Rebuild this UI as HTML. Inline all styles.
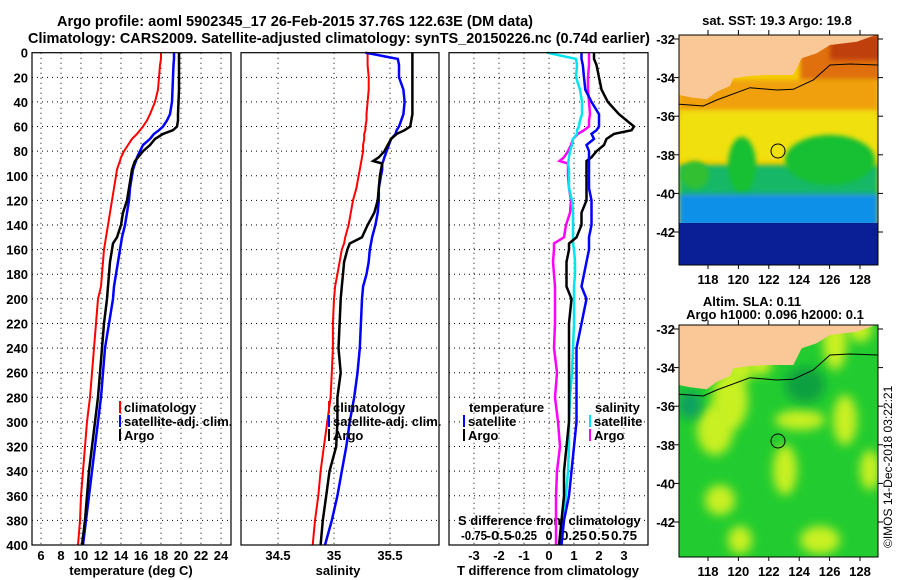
<!DOCTYPE html>
<html><head><meta charset="utf-8"><style>
html,body{margin:0;padding:0;background:#fff;width:900px;height:580px;overflow:hidden;}
svg{display:block;font-family:"Liberation Sans",sans-serif;font-weight:bold;overflow:hidden;}
</style></head><body>
<svg id="fig" width="900" height="580" viewBox="0 0 900 580">
<defs>
<filter id="blur4" x="-50%" y="-50%" width="200%" height="200%"><feGaussianBlur stdDeviation="5"/></filter>
<filter id="blur2" x="-20%" y="-20%" width="140%" height="140%"><feGaussianBlur stdDeviation="2.5"/></filter>
<clipPath id="clipMap1"><rect x="679" y="35" width="199" height="230"/></clipPath>
<clipPath id="clipMap2"><rect x="679" y="325" width="199" height="232"/></clipPath>
</defs>
<text x="57" y="26" font-size="15" textLength="476" lengthAdjust="spacingAndGlyphs">Argo profile: aoml 5902345_17 26-Feb-2015 37.76S 122.63E (DM data)</text>
<text x="28" y="43" font-size="15" textLength="622" lengthAdjust="spacingAndGlyphs">Climatology: CARS2009. Satellite-adjusted climatology: synTS_20150226.nc (0.74d earlier)</text>
<g id="panels"></g>
<g id="maps"></g>
<text transform="translate(892,548) rotate(-90)" font-size="12" font-weight="normal">©IMOS 14-Dec-2018 03:22:21</text>
</svg>
<script>
// ---- data ----
const depths = [0,5,10,20,30,40,50,55,60,63,66,70,75,80,85,88,90,95,100,110,120,130,140,150,155,160,170,180,190,200,220,240,260,280,300,320,340,360,380,400];
const tempClim = [18.0,18.0,17.9,17.8,17.7,17.4,16.9,16.6,16.2,15.9,15.6,15.1,14.7,14.3,14.0,13.9,13.8,13.6,13.5,13.3,13.1,12.9,12.7,12.5,12.4,12.3,12.2,12.1,12.0,11.7,11.5,11.3,11.1,10.9,10.6,10.4,10.2,10.0,9.9,9.7];
const tempSat  = [19.3,19.3,19.25,19.2,19.15,19.1,18.9,18.6,18.2,17.8,17.3,16.9,16.2,15.9,15.6,15.5,15.4,15.2,15.1,14.9,14.8,14.6,14.4,14.1,14.0,13.9,13.7,13.5,13.3,13.2,12.8,12.4,12.2,12.0,11.7,11.4,11.1,10.8,10.5,10.2];
const tempArgo = [19.8,19.8,19.8,19.8,19.8,19.75,19.7,19.7,19.6,19.2,18.2,17.4,16.9,16.2,15.7,15.4,15.3,15.1,15.0,14.8,14.6,14.2,14.0,13.6,13.2,13.1,12.9,12.8,12.7,12.6,12.3,12.1,11.9,11.7,11.4,11.1,10.8,10.6,10.4,10.1];
const salClim = [35.30,35.30,35.30,35.31,35.31,35.30,35.29,35.29,35.28,35.28,35.27,35.27,35.26,35.26,35.25,35.245,35.24,35.23,35.22,35.20,35.17,35.15,35.13,35.10,35.09,35.07,35.05,35.03,35.01,35.00,34.99,34.99,34.98,34.97,34.94,34.91,34.88,34.86,34.83,34.81];
const salSat  = [35.28,35.57,35.58,35.58,35.62,35.63,35.62,35.60,35.58,35.56,35.55,35.51,35.49,35.47,35.45,35.44,35.43,35.43,35.42,35.40,35.40,35.39,35.37,35.34,35.33,35.32,35.31,35.29,35.26,35.25,35.24,35.23,35.21,35.18,35.14,35.11,35.07,35.03,34.98,34.92];
const salArgo = [35.70,35.70,35.70,35.70,35.70,35.70,35.70,35.69,35.68,35.63,35.56,35.51,35.48,35.45,35.40,35.35,35.43,35.42,35.41,35.40,35.39,35.36,35.30,35.25,35.14,35.12,35.09,35.08,35.07,35.06,35.05,35.04,35.06,35.03,35.03,35.02,34.96,34.93,34.90,34.88];
const depthTicks = [0,20,40,60,80,100,120,140,160,180,200,220,240,260,280,300,320,340,360,380,400];
const tempTicks = [6,8,10,12,14,16,18,20,22,24];
const salTicks = [34.5,35,35.5];
const tdiffTicks = [-3,-2,-1,0,1,2,3];
const sdiffTicks = [-0.75,-0.5,-0.25,0,0.25,0.5,0.75];
const sdiffLabels = ["-0.75","-0.5","-0.25","0","0.25","0.5","0.75"];
const latTicks = [-32,-34,-36,-38,-40,-42];
const lonTicks = [118,120,122,124,126,128];

const NS='http://www.w3.org/2000/svg';
const G=document.getElementById('panels');
function mk(tag,attrs,parent){const e=document.createElementNS(NS,tag);for(const k in attrs)e.setAttribute(k,attrs[k]);(parent||G).appendChild(e);return e;}
function txt(x,y,s,attrs,parent){const e=mk('text',Object.assign({x:x,y:y,'font-size':12},attrs||{}),parent);e.textContent=s;return e;}

const Y0=52.7, Y1=545;
const yD=d=>Y0+(d/400)*(Y1-Y0);
const xT=t=>41+(t-6)*10;
const xS=s=>334+(s-35)*112;
const xTd=t=>549+t*25;
const xSd=s=>549+s*100;
const panels=[{l:32,r:231,name:'temperature'},{l:241,r:439,name:'salinity'},{l:449,r:648,name:'difference'}];

panels.forEach(p=>{
  depthTicks.forEach(d=>{
    if(d===0||d===400) return;
    const ln=mk('line',{x1:p.l,x2:p.r,y1:yD(d),y2:yD(d),stroke:'#000','stroke-width':1,'stroke-dasharray':'1 4'});
    
    
  });
});
function vgrid(xs,p){xs.forEach(x=>{const ln=mk('line',{x1:x,x2:x,y1:Y0,y2:Y1,stroke:'#000','stroke-width':1,'stroke-dasharray':'1 4'});
  
  });}
vgrid(tempTicks.map(xT),panels[0]);
vgrid(salTicks.map(xS),panels[1]);
vgrid(tdiffTicks.map(xTd),panels[2]);

depthTicks.forEach(d=>{const t=txt(28,yD(d)+5,String(d),{'text-anchor':'end','font-size':13});
  
  });
tempTicks.forEach(v=>{const t=txt(xT(v),560,String(v),{'text-anchor':'middle','font-size':13});
  
  });
salTicks.forEach(v=>{const t=txt(xS(v),560,String(v),{'text-anchor':'middle','font-size':13});
  
  });
tdiffTicks.forEach(v=>{const t=txt(xTd(v),560,String(v),{'text-anchor':'middle','font-size':13});
  
  });
sdiffTicks.forEach((v,i)=>{const t=txt(xSd(v),540,sdiffLabels[i],{'text-anchor':'middle','font-size':13,textLength:sdiffLabels[i].length>3?26:(sdiffLabels[i].length*7),lengthAdjust:'spacingAndGlyphs'});
  
  });
let at=txt(131,575,'temperature (deg C)',{'text-anchor':'middle','font-size':13});


at=txt(338,575,'salinity',{'text-anchor':'middle','font-size':13});


at=txt(548,575,'T difference from climatology',{'text-anchor':'middle','font-size':13});


at=txt(458,525,'S difference from climatology',{'font-size':13});



function series(xs,xf,color,w,name){
  const pts=depths.map((d,i)=>xf(xs[i]).toFixed(1)+','+yD(d).toFixed(1)).join(' ');
  const pl=mk('polyline',{points:pts,fill:'none',stroke:color,'stroke-width':w,'stroke-linejoin':'miter'});
  
  
}
series(tempClim,xT,'#ff0000',2,'temp-climatology-line');
series(tempSat,xT,'#0000ff',2.5,'temp-satellite-line');
series(tempArgo,xT,'#000',2.5,'temp-argo-line');
series(salClim,xS,'#ff0000',2,'sal-climatology-line');
series(salSat,xS,'#0000ff',2.5,'sal-satellite-line');
series(salArgo,xS,'#000',2.5,'sal-argo-line');
const tSatDiff=tempSat.map((v,i)=>v-tempClim[i]);
const tArgoDiff=tempArgo.map((v,i)=>v-tempClim[i]);
const sSatDiff=salSat.map((v,i)=>v-salClim[i]);
const sArgoDiff=salArgo.map((v,i)=>v-salClim[i]);
series(sArgoDiff,xSd,'#ff00ff',2.5,'sdiff-argo-line');
series(sSatDiff,xSd,'#00e5ee',2.5,'sdiff-satellite-line');
series(tArgoDiff,xTd,'#000',2.5,'tdiff-argo-line');
series(tSatDiff,xTd,'#0000ff',2.5,'tdiff-satellite-line');

panels.forEach(p=>{const r=mk('rect',{x:p.l,y:Y0,width:p.r-p.l,height:Y1-Y0,fill:'none',stroke:'#000','stroke-width':1.2});
  
  });

function legend(x,y,color,label,nm){
  const l=mk('line',{x1:x,x2:x,y1:y-11,y2:y+1,stroke:color,'stroke-width':2});
  
  
  const t=txt(x+4,y,label,{'font-size':13});
  
  
}
legend(120,412,'#ff0000','climatology','legend-climatology');
legend(120,426,'#0000ff','satellite-adj. clim.','legend-satellite-adj');
legend(120,440,'#000','Argo','legend-argo');
legend(329,412,'#ff0000','climatology','legend2-climatology');
legend(329,426,'#0000ff','satellite-adj. clim.','legend2-satellite-adj');
legend(329,440,'#000','Argo','legend2-argo');
at=txt(469,412,'temperature',{'font-size':13});


at=txt(595,412,'salinity',{'font-size':13});


legend(464,426,'#0000ff','satellite','legend-t-satellite');
legend(464,440,'#000','Argo','legend-t-argo');
legend(590,426,'#00e5ee','satellite','legend-s-satellite');
legend(590,440,'#ff00ff','Argo','legend-s-argo');

// ---- maps ----
const M=document.getElementById('maps');
const lonX=l=>708+(l-118)*15.2;
function mapFrame(clip,kind){
  const g=mk('g',{'clip-path':'url(#'+clip+')'},M);
  
  
  return g;
}
const coast=[[88,285],[120,292],[170,298],[200,275],[240,258],[250,235],[300,228],[350,225],[430,225],[445,195],[455,175],[500,160],[540,135],[620,125],[683,103]];
function coastPath(oy){return 'M679,'+(oy+30)+' '+coast.map(p=>'L'+(650+p[0]/3).toFixed(1)+','+(oy+p[1]/3).toFixed(1)).join(' ')+' L880,'+(oy+30)+' Z';}
const contour=[[88,313],[160,318],[200,300],[300,263],[380,270],[430,268],[490,240],[540,195],[600,192],[683,195]];
function contourPath(oy){return 'M'+contour.map(p=>(650+p[0]/3).toFixed(1)+','+(oy+p[1]/3).toFixed(1)).join(' L');}

const g1=mapFrame('clipMap1','sst');
mk('rect',{x:679,y:35,width:199,height:230,fill:'#f5d000'},g1);
mk('rect',{x:679,y:80,width:199,height:38,fill:'#f0a010',filter:'url(#blur2)'},g1);
mk('rect',{x:800,y:35,width:80,height:45,fill:'#e07010',filter:'url(#blur2)'},g1);
mk('rect',{x:830,y:35,width:50,height:25,fill:'#c04010',filter:'url(#blur2)'},g1);
mk('rect',{x:679,y:110,width:199,height:50,fill:'#f0e010',filter:'url(#blur2)'},g1);
mk('rect',{x:679,y:165,width:199,height:32,fill:'#18b868',filter:'url(#blur2)'},g1);
mk('ellipse',{cx:830,cy:160,rx:45,ry:25,fill:'#18c030',filter:'url(#blur2)'},g1);
mk('ellipse',{cx:742,cy:165,rx:14,ry:28,fill:'#18c030',filter:'url(#blur2)'},g1);
mk('ellipse',{cx:695,cy:175,rx:14,ry:14,fill:'#30c030',filter:'url(#blur2)'},g1);
mk('rect',{x:679,y:194,width:199,height:32,fill:'#1090e8',filter:'url(#blur2)'},g1);
mk('rect',{x:679,y:223,width:199,height:42,fill:'#0a1e96'},g1);
mk('path',{d:coastPath(0),fill:'#fac896'},g1);
mk('path',{d:contourPath(0),fill:'none',stroke:'#000','stroke-width':1},g1);

const g2=mapFrame('clipMap2','sla');
mk('rect',{x:679,y:325,width:199,height:232,fill:'#22cc30'},g2);
[[740,370,14,12],[760,365,12,10],[800,420,25,10],[835,340,12,30],[845,420,12,25],[860,330,12,12],[730,400,18,30],[715,430,18,25],[785,470,12,25],[740,540,12,14],[820,540,20,14],[870,470,10,20],[720,500,15,15]].forEach(b=>{
  mk('ellipse',{cx:b[0],cy:b[1],rx:b[2],ry:b[3],fill:'#c8f020',filter:'url(#blur4)'},g2);
});
mk('ellipse',{cx:805,cy:385,rx:20,ry:18,fill:'#10a040',filter:'url(#blur4)'},g2);
mk('ellipse',{cx:690,cy:405,rx:12,ry:14,fill:'#10a060',filter:'url(#blur4)'},g2);
mk('path',{d:coastPath(290),fill:'#fac896'},g2);
mk('path',{d:contourPath(290),fill:'none',stroke:'#000','stroke-width':1},g2);

function mapAxes(oy,bottom,titles,nm){
  const fr=mk('rect',{x:679,y:oy+35,width:199,height:bottom-(oy+35),fill:'none',stroke:'#000','stroke-width':1},M);
  
  
  const c=mk('circle',{cx:778,cy:oy+151,r:7,fill:'none',stroke:'#000','stroke-width':1},M);
  
  
  latTicks.forEach(la=>{
    const y=oy+39+(-32-la)*19.3;
    const t=txt(675,y+5,String(la),{'text-anchor':'end','font-size':13},M);
    
    
    mk('line',{x1:674,x2:679,y1:y,y2:y,stroke:'#000'},M);
    mk('line',{x1:878,x2:883,y1:y,y2:y,stroke:'#000'},M);
  });
  lonTicks.forEach(lo=>{
    const x=lonX(lo);
    const t=txt(x,bottom+19,String(lo),{'text-anchor':'middle','font-size':13},M);
    
    
    mk('line',{x1:x,x2:x,y1:oy+30,y2:oy+35,stroke:'#000'},M);
    mk('line',{x1:x,x2:x,y1:bottom,y2:bottom+4,stroke:'#000'},M);
  });
  titles.forEach(s=>{const t=txt(s[1],s[2],s[0],{'text-anchor':'middle','font-size':13},M);
    
    });
}
mapAxes(0,265,[['sat. SST: 19.3 Argo: 19.8',777,25]],'sst');
mapAxes(290,557,[['Altim. SLA: 0.11',752,306],['Argo h1000: 0.096 h2000: 0.1',775,319]],'sla');
</script>
</body></html>
